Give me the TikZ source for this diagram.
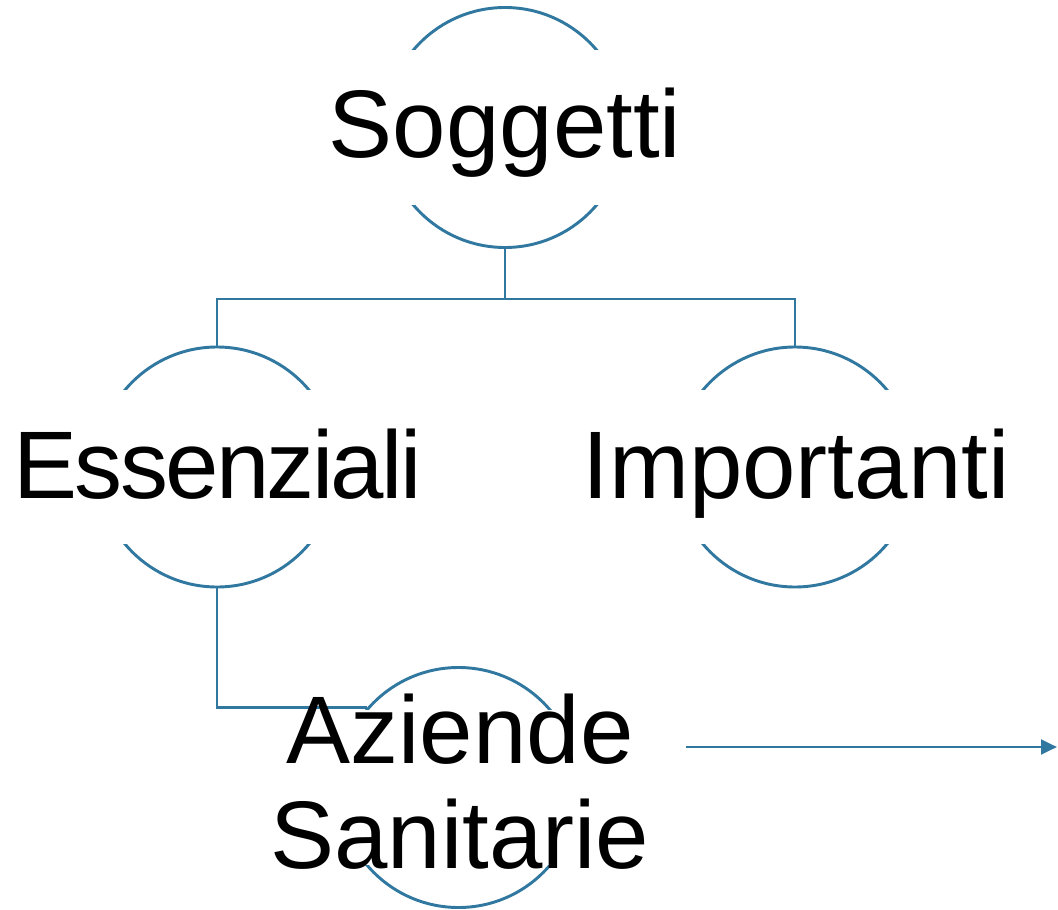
\documentclass[tikz,border=0pt]{standalone}
\usepackage{fontspec}
\setmainfont{Liberation Sans}
\usetikzlibrary{arrows.meta,calc}
\definecolor{lnk}{RGB}{49,120,160}
\tikzset{circ/.style={circle, draw=lnk, line width=2.2pt, minimum size=180pt, inner sep=0pt},
  band/.style={rectangle, fill=white, minimum width=190pt, minimum height=116pt, inner sep=0pt},
  lbl/.style={font=\fontsize{72}{78.75}\selectfont, inner sep=0pt, align=center},
  lnkline/.style={draw=lnk, line width=2.2pt}}

\begin{document}
\begin{tikzpicture}[x=0.75pt, y=-0.75pt]
\useasboundingbox (0,0) rectangle (1058,910);
% circles
\node[circ] (sog) at (505,127.5) {};
\node[circ] (ess) at (217,467) {};
\node[circ] (imp) at (795,467) {};
\node[circ] (az) at (458.5,787.5) {};
% white bands
\node[band] (sogband) at (sog) {};
\node[band] (essband) at (ess) {};
\node[band] (impband) at (imp) {};
\node[band] (azband) at (az) {};
% connectors
\coordinate (fork) at ($(sog.south)+(0,50)$);
\draw[lnkline] (sog.south) -- (fork) -| (ess.north);
\draw[lnkline] (fork) -| (imp.north);
\draw[lnkline] (ess.south) |- (az.139);
\coordinate (arrbeg) at (686,747);
\coordinate (arrend) at (1057,747);
\draw[lnkline, -{Triangle[length=12pt,width=11pt]}] (arrbeg) -- (arrend);
% labels
\node[lbl, anchor=base] (sogtxt) at (505,157) {Soggetti};
\node[lbl, anchor=base] (esstxt) at (217.5,498) {\addfontfeature{LetterSpace=-2.8}Essenziali};
\node[lbl, anchor=base] (imptxt) at (796,498) {Importanti};
\node[lbl] (aztxt) at (460,782) {Aziende\\Sanitarie};
\end{tikzpicture}
\end{document}
